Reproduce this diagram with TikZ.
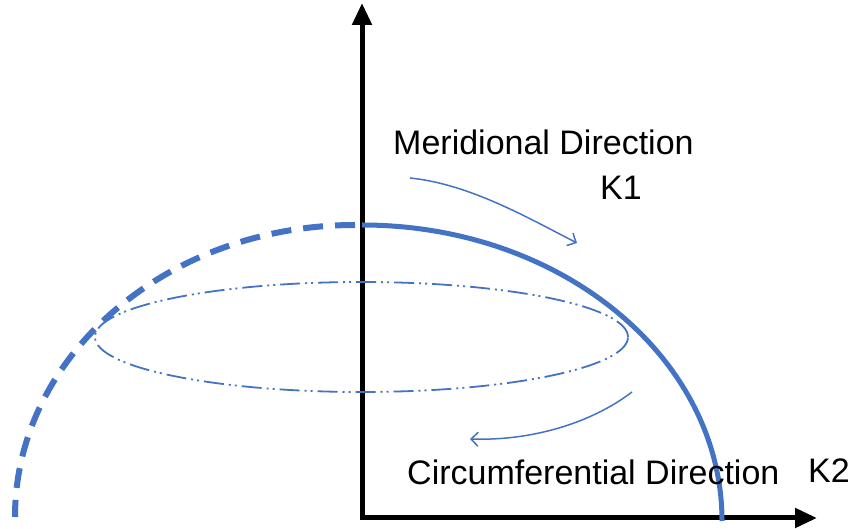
\documentclass[tikz,border=0pt]{standalone}
\usepackage{fontspec}
\setmainfont{Liberation Sans}
\usetikzlibrary{arrows.meta}
\definecolor{obl}{HTML}{4472C4}
\tikzset{
  axis/.style={line width=5pt, line join=miter, {Triangle[length=22pt,width=19pt]}-{Triangle[length=22pt,width=19pt]}},
  solidarc/.style={obl, line width=5pt},
  dasharc/.style={obl, line width=6pt, dash pattern=on 20pt off 12pt},
  ring/.style={obl, line width=1.8pt, dash pattern=on 20pt off 5pt on 2pt off 4pt on 2pt off 5pt},
  dirarrow/.style={obl, line width=1.5pt, -{Straight Barb[length=7pt,width=14pt]}},
  lbl/.style={inner sep=0pt, anchor=base west, font=\fontsize{34}{40}\selectfont}
}
\begin{document}
\begin{tikzpicture}[x=1pt,y=1pt]
\useasboundingbox (0,0) rectangle (850,529);
% axes
\coordinate (O) at (362,11);
\coordinate (Xe) at (817,11);
\coordinate (Ye) at (362,526);
\draw[axis] (Xe) -- (O) -- (Ye);
% solid arc (right quarter)
\coordinate (Top) at (362,304);
\draw[solidarc] (Top) arc[start angle=90, end angle=0, x radius=360, y radius=296];
% dashed arc (left quarter)
\coordinate (TopL) at (355,304);
\draw[dasharc] (TopL) arc[start angle=90, end angle=180, x radius=340, y radius=292];
% dash-dot-dot ring
\coordinate (C) at (361.5,192);
\draw[ring] (C) ellipse[x radius=266.5, y radius=55];
% direction arrows
\coordinate (m1) at (410,351);
\coordinate (m2) at (577,286);
\draw[dirarrow] (m1) .. controls (470,345) and (530,310) .. (m2);
\coordinate (c1) at (632,137);
\coordinate (c2) at (470,90);
\draw[dirarrow] (c1) .. controls (590,105) and (530,88) .. (c2);
% labels
\node[lbl] (mer) at (393,374) {Meridional Direction};
\node[lbl] (k1) at (600,329) {K1};
\node[lbl] (cir) at (407,44) {Circumferential Direction};
\node[lbl] (k2) at (808,46) {K2};
\end{tikzpicture}
\end{document}
